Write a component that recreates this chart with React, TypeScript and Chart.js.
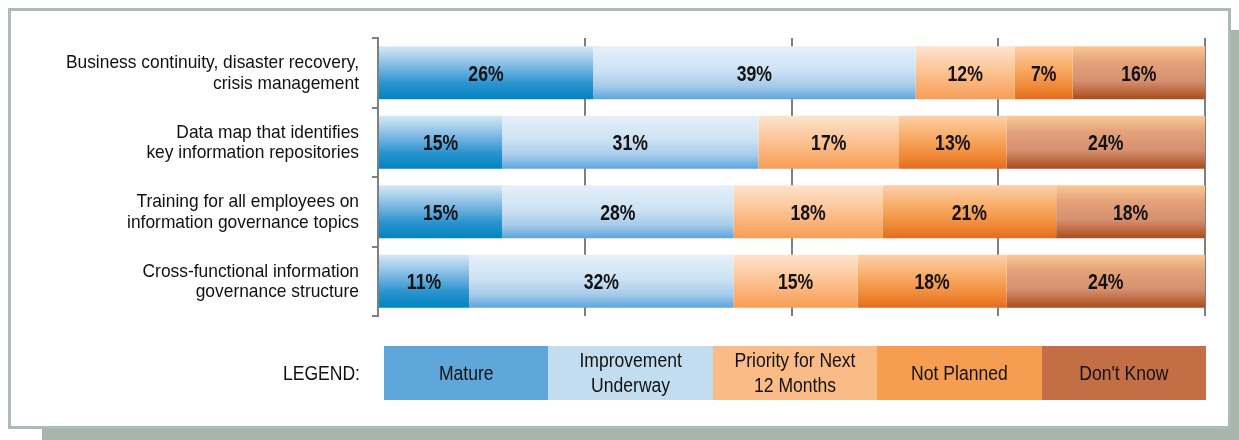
import React, { useEffect, useRef } from "react";
import { Chart, registerables } from "chart.js";

Chart.register(...registerables);

const categories: string[][] = [
  ["Business continuity, disaster recovery,", "crisis management"],
  ["Data map that identifies", "key information repositories"],
  ["Training for all employees on", "information governance topics"],
  ["Cross-functional information", "governance structure"],
];

const seriesNames = [
  "Mature",
  "Improvement Underway",
  "Priority for Next 12 Months",
  "Not Planned",
  "Don't Know",
];
const legendLines: string[][] = [
  ["Mature"],
  ["Improvement", "Underway"],
  ["Priority for Next", "12 Months"],
  ["Not Planned"],
  ["Don't Know"],
];
const legendTitle = "LEGEND:";

const mature = [26, 15, 15, 11];
const improvement = [39, 31, 28, 32];
const priority = [12, 17, 18, 15];
const notPlanned = [7, 13, 21, 18];
const dontKnow = [16, 24, 18, 24];

const xTickValues = [0, 25, 50, 75, 100];

const legendColors = ["#5fa7da", "#c3ddf0", "#fbbb87", "#f79d51", "#c46e46"];

const gradientStops: [number, string][][] = [
  [[0, "#d6e8f6"], [0.35, "#86bde4"], [0.7, "#2a94cf"], [1, "#0084c0"]],
  [[0, "#e6f0f9"], [0.45, "#cde2f3"], [0.75, "#a6cbea"], [1, "#5fa5db"]],
  [[0, "#fde4cf"], [0.45, "#fcc596"], [1, "#f79d55"]],
  [[0, "#fcd0aa"], [0.4, "#f8ac66"], [0.75, "#f08a38"], [1, "#e46c1e"]],
  [[0, "#fcc795"], [0.3, "#e3a27a"], [0.65, "#d69070"], [1, "#a94d1c"]],
];

const BAR_PCT = 0.76;
const TEXT_COLOR = "#111111";
const SANS = "'Liberation Sans', Arial, Helvetica, sans-serif";

function drawScaledText(
  ctx: CanvasRenderingContext2D,
  text: string,
  x: number,
  y: number,
  font: string,
  sx: number,
  align: "left" | "right" | "center"
) {
  ctx.save();
  ctx.font = font;
  ctx.textBaseline = "alphabetic";
  ctx.textAlign = align;
  ctx.fillStyle = TEXT_COLOR;
  ctx.translate(x, y);
  ctx.scale(sx, 1);
  ctx.fillText(text, 0, 0);
  ctx.restore();
}

function makeGradient(stops: [number, string][]) {
  return (c: any) => {
    const chart = c.chart;
    const ys = chart.scales && chart.scales.y;
    const area = chart.chartArea;
    if (!ys || !area || c.dataIndex == null) return stops[stops.length - 1][1];
    const center = ys.getPixelForValue(c.dataIndex);
    const band = ((area.bottom - area.top) / categories.length) * BAR_PCT;
    const g = chart.ctx.createLinearGradient(0, center - band / 2, 0, center + band / 2);
    stops.forEach(([o, col]) => g.addColorStop(o, col));
    return g;
  };
}

const framePlugin = {
  id: "frame",
  beforeDraw(chart: any) {
    const ctx: CanvasRenderingContext2D = chart.ctx;
    ctx.save();
    ctx.fillStyle = "#ffffff";
    ctx.fillRect(0, 0, chart.width, chart.height);
    ctx.fillStyle = "#a6b6ae";
    ctx.fillRect(42, 30, chart.width - 42, chart.height - 30);
    ctx.fillStyle = "#ffffff";
    ctx.fillRect(8, 8, 1223, 421);
    ctx.strokeStyle = "#abbcb4";
    ctx.lineWidth = 3;
    ctx.strokeRect(9.5, 9.5, 1220, 418);
    ctx.restore();
  },
};

const labelsPlugin = {
  id: "valueLabels",
  afterDatasetsDraw(chart: any) {
    const ctx: CanvasRenderingContext2D = chart.ctx;
    chart.data.datasets.forEach((ds: any, i: number) => {
      const meta = chart.getDatasetMeta(i);
      meta.data.forEach((el: any, j: number) => {
        const p = el.getProps(["x", "y", "base"], true);
        const cx = (p.x + p.base) / 2;
        drawScaledText(ctx, ds.data[j] + "%", cx, p.y + 8, "bold 21.5px " + SANS, 0.82, "center");
      });
    });
  },
  afterDraw(chart: any) {
    const ctx: CanvasRenderingContext2D = chart.ctx;
    const ys = chart.scales.y;
    const area = chart.chartArea;
    const catFont = "19px " + SANS;
    categories.forEach((lines, i) => {
      const c = ys.getPixelForValue(i);
      drawScaledText(ctx, lines[0], area.left - 19, c - 4.5, catFont, 0.915, "right");
      drawScaledText(ctx, lines[1], area.left - 19, c + 16, catFont, 0.915, "right");
    });

    const legTop = 346;
    const legBottom = 400;
    const legLeft = area.left + 6;
    const legRight = area.right + 1;
    const w = (legRight - legLeft) / legendColors.length;
    const mid = (legTop + legBottom) / 2;
    const legFont = "19.5px " + SANS;
    legendColors.forEach((col, i) => {
      const x0 = legLeft + i * w;
      ctx.save();
      ctx.fillStyle = col;
      ctx.fillRect(Math.round(x0), legTop, Math.round(x0 + w) - Math.round(x0), legBottom - legTop);
      ctx.restore();
      const lines = legendLines[i];
      const cx = x0 + w / 2;
      if (lines.length === 1) {
        drawScaledText(ctx, lines[0], cx, mid + 7, legFont, 0.9, "center");
      } else {
        drawScaledText(ctx, lines[0], cx, mid - 6, legFont, 0.9, "center");
        drawScaledText(ctx, lines[1], cx, mid + 19, legFont, 0.9, "center");
      }
    });
    drawScaledText(ctx, legendTitle, area.left - 18, mid + 7, legFont, 0.9, "right");
  },
};

export default function App() {
  const ref = useRef<HTMLCanvasElement | null>(null);

  useEffect(() => {
    if (!ref.current) return;
    const seriesData = [mature, improvement, priority, notPlanned, dontKnow];
    const chart = new Chart(ref.current, {
      type: "bar",
      data: {
        labels: categories,
        datasets: seriesData.map((d, i) => ({
          label: seriesNames[i],
          data: d,
          backgroundColor: makeGradient(gradientStops[i]),
          borderWidth: 0,
          barPercentage: BAR_PCT,
          categoryPercentage: 1,
        })),
      },
      options: {
        animation: false,
        responsive: false,
        maintainAspectRatio: false,
        indexAxis: "y",
        layout: { padding: { left: 368, right: 34, top: 38, bottom: 124 } },
        plugins: {
          legend: { display: false },
          tooltip: { enabled: false },
        },
        scales: {
          x: {
            stacked: true,
            min: 0,
            max: 100,
            afterBuildTicks: (s: any) => {
              s.ticks = xTickValues.map((v) => ({ value: v }));
            },
            ticks: { display: false },
            grid: { color: "#7f7f7f", lineWidth: 2, drawTicks: false },
            border: { display: false },
            afterFit: (s: any) => {
              s.height = 0;
            },
          },
          y: {
            stacked: true,
            ticks: { display: false },
            grid: {
              offset: true,
              drawOnChartArea: false,
              drawTicks: true,
              tickLength: 6,
              color: "#7f7f7f",
              lineWidth: 2,
            },
            border: { display: true, color: "#7f7f7f", width: 2 },
            afterFit: (s: any) => {
              s.width = 10;
            },
          },
        },
      } as any,
      plugins: [framePlugin, labelsPlugin],
    });
    return () => chart.destroy();
  }, []);

  return (
    <div style={{ position: "fixed", left: 0, top: 0, width: 1239, height: 440 }}>
      <canvas ref={ref} width={1239} height={440} style={{ display: "block" }} />
    </div>
  );
}
